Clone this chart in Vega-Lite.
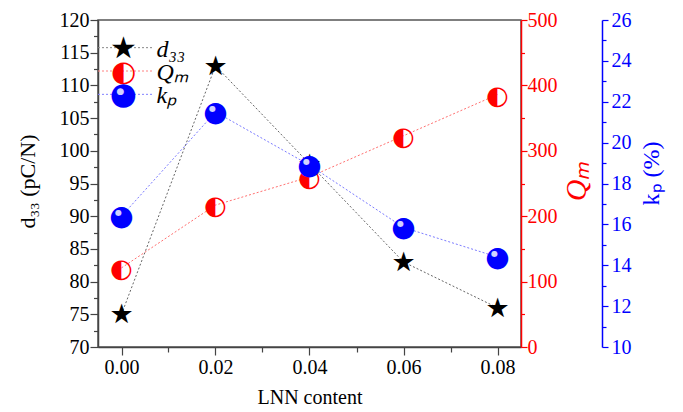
{
  "$schema": "https://vega.github.io/schema/vega-lite/v6.json",
  "width": 423,
  "height": 327,
  "autosize": {"type": "none"},
  "padding": {"left": 98, "top": 20, "right": 162, "bottom": 65},
  "background": "white",
  "config": {
    "aria": false,
    "view": {"stroke": "#555", "strokeWidth": 1.5},
    "font": "Liberation Serif",
    "axis": {
      "labelFont": "Liberation Serif",
      "titleFont": "Liberation Serif",
      "labelFontSize": 20,
      "titleFontSize": 22,
      "titleFontWeight": "normal",
      "grid": false,
      "labelColor": "black",
      "titleColor": "black",
      "tickColor": "#444",
      "domainColor": "#444",
      "domainWidth": 1.5,
      "tickWidth": 1.2
    }
  },
  "data": {
    "values": [
      {"x": 0.00, "series": "d33", "value": 75},
      {"x": 0.02, "series": "d33", "value": 113},
      {"x": 0.04, "series": "d33", "value": 98},
      {"x": 0.06, "series": "d33", "value": 83},
      {"x": 0.08, "series": "d33", "value": 76},
      {"x": 0.00, "series": "Qm", "value": 121},
      {"x": 0.02, "series": "Qm", "value": 217},
      {"x": 0.04, "series": "Qm", "value": 260},
      {"x": 0.06, "series": "Qm", "value": 323},
      {"x": 0.08, "series": "Qm", "value": 386},
      {"x": 0.00, "series": "kp", "value": 16.4},
      {"x": 0.02, "series": "kp", "value": 21.5},
      {"x": 0.04, "series": "kp", "value": 18.9},
      {"x": 0.06, "series": "kp", "value": 15.85},
      {"x": 0.08, "series": "kp", "value": 14.4}
    ]
  },
  "layer": [
    {
      "transform": [{"filter": "datum.series === 'd33'"}],
      "mark": {"type": "line", "color": "#666", "strokeDash": [2, 2], "strokeWidth": 1},
      "encoding": {
        "x": {"field": "x", "type": "quantitative",
          "scale": {"domain": [-0.005, 0.085], "nice": false, "zero": false},
          "axis": {"orient": "bottom", "values": [0, 0.02, 0.04, 0.06, 0.08], "format": ".2f", "tickSize": 8, "labelPadding": 2,
            "title": "LNN content", "titleFontSize": 20, "titleBaseline": "middle", "titleY": 50}},
        "y": {"field": "value", "type": "quantitative",
          "scale": {"domain": [70, 120], "nice": false, "zero": false},
          "axis": {"orient": "left", "values": [70, 75, 80, 85, 90, 95, 100, 105, 110, 115, 120], "tickSize": 8, "labelPadding": 1,
            "title": "d₃₃ (pC/N)", "titleAngle": 270, "titleBaseline": "middle", "titleAlign": "center", "titleX": -71, "titleY": 161}}
      }
    },
    {
      "transform": [{"filter": "datum.series === 'Qm'"}],
      "mark": {"type": "line", "color": "#ff7070", "strokeDash": [2, 2], "strokeWidth": 1},
      "encoding": {
        "x": {"field": "x", "type": "quantitative", "scale": {"domain": [-0.005, 0.085], "nice": false, "zero": false}, "axis": null},
        "y": {"field": "value", "type": "quantitative",
          "scale": {"domain": [0, 500], "nice": false},
          "axis": {"orient": "right", "values": [0, 100, 200, 300, 400, 500], "tickSize": 6, "labelPadding": 0,
            "domainColor": "red", "tickColor": "red", "labelColor": "red", "titleColor": "red",
            "title": "Qₘ", "titleFontSize": 30, "titleFontStyle": "italic", "titleAngle": 270, "titleBaseline": "middle", "titleAlign": "center", "titleX": 55, "titleY": 161}}
      }
    },
    {
      "transform": [{"filter": "datum.series === 'kp'"}],
      "mark": {"type": "line", "color": "#7a7aff", "strokeDash": [2, 2], "strokeWidth": 1},
      "encoding": {
        "x": {"field": "x", "type": "quantitative", "scale": {"domain": [-0.005, 0.085], "nice": false, "zero": false}, "axis": null},
        "y": {"field": "value", "type": "quantitative",
          "scale": {"domain": [10, 26], "nice": false, "zero": false},
          "axis": {"orient": "right", "offset": 81, "values": [10, 12, 14, 16, 18, 20, 22, 24, 26], "tickSize": 6, "labelPadding": 3,
            "domainColor": "blue", "tickColor": "blue", "labelColor": "blue", "titleColor": "blue",
            "title": "kₚ (%)", "titleFontSize": 24, "titleAngle": 270, "titleBaseline": "middle", "titleAlign": "center", "titleX": 49, "titleY": 153}}
      }
    },
    {
      "transform": [{"filter": "datum.series === 'd33'"}],
      "mark": {"type": "text", "text": "★", "font": "DejaVu Sans", "fontSize": 27, "baseline": "middle", "align": "center", "dy": 1, "color": "black"},
      "encoding": {
        "x": {"field": "x", "type": "quantitative", "scale": {"domain": [-0.005, 0.085], "nice": false, "zero": false},
          "axis": {"orient": "bottom", "values": [0.01, 0.03, 0.05, 0.07], "tickSize": 5, "labels": false, "domain": false, "title": null}},
        "y": {"field": "value", "type": "quantitative", "scale": {"domain": [70, 120], "nice": false, "zero": false},
          "axis": {"orient": "left", "values": [72.5, 77.5, 82.5, 87.5, 92.5, 97.5, 102.5, 107.5, 112.5, 117.5], "tickSize": 4.5, "labels": false, "domain": false, "title": null}}
      }
    },
    {
      "transform": [{"filter": "datum.series === 'Qm'"}],
      "mark": {"type": "text", "text": "◐", "font": "DejaVu Sans", "fontSize": 26, "baseline": "middle", "align": "center", "dy": 1, "color": "red"},
      "encoding": {
        "x": {"field": "x", "type": "quantitative", "scale": {"domain": [-0.005, 0.085], "nice": false, "zero": false}, "axis": null},
        "y": {"field": "value", "type": "quantitative", "scale": {"domain": [0, 500], "nice": false},
          "axis": {"orient": "right", "values": [50, 150, 250, 350, 450], "tickSize": 3.5, "labels": false, "domain": false, "title": null, "tickColor": "red"}}
      }
    },
    {
      "transform": [{"filter": "datum.series === 'kp'"}],
      "mark": {"type": "text", "text": "●", "font": "DejaVu Sans", "fontSize": 28, "baseline": "middle", "align": "center", "dy": 1, "color": "blue"},
      "encoding": {
        "x": {"field": "x", "type": "quantitative", "scale": {"domain": [-0.005, 0.085], "nice": false, "zero": false}, "axis": null},
        "y": {"field": "value", "type": "quantitative", "scale": {"domain": [10, 26], "nice": false, "zero": false},
          "axis": {"orient": "right", "offset": 81, "values": [11, 13, 15, 17, 19, 21, 23, 25], "tickSize": 4, "labels": false, "domain": false, "title": null, "tickColor": "blue"}}
      }
    },
    {
      "transform": [{"filter": "datum.series === 'kp'"}],
      "mark": {"type": "text", "text": "●", "font": "DejaVu Sans", "fontSize": 8, "baseline": "middle", "align": "center", "dx": -3, "dy": -3, "color": "#e8e8ff", "opacity": 0.9},
      "encoding": {
        "x": {"field": "x", "type": "quantitative", "scale": {"domain": [-0.005, 0.085], "nice": false, "zero": false}, "axis": null},
        "y": {"field": "value", "type": "quantitative", "scale": {"domain": [10, 26], "nice": false, "zero": false}, "axis": null}
      }
    },
    {
      "data": {"values": [
        {"series": "d33", "label": "d₃₃"},
        {"series": "Qm", "label": "Qₘ"},
        {"series": "kp", "label": "kₚ"}
      ]},
      "layer": [
        {
          "mark": {"type": "rule", "strokeDash": [2, 2], "strokeWidth": 1},
          "encoding": {
            "x": {"datum": -0.005, "type": "quantitative", "scale": {"domain": [-0.005, 0.085], "nice": false, "zero": false}, "axis": null},
            "x2": {"datum": 0.0065},
            "y": {"field": "series", "type": "nominal", "scale": {"type": "point", "domain": ["d33", "Qm", "kp"], "range": [16, 86]}, "axis": null},
            "stroke": {"field": "series", "type": "nominal", "scale": {"domain": ["d33", "Qm", "kp"], "range": ["#888888", "#ff8080", "#8080ff"]}, "legend": null}
          }
        },
        {
          "transform": [{"filter": "datum.series === 'd33'"}],
          "mark": {"type": "text", "text": "★", "font": "DejaVu Sans", "fontSize": 30, "baseline": "middle", "align": "center", "dy": 1, "color": "black"},
          "encoding": {
            "x": {"datum": 0.0004, "type": "quantitative", "scale": {"domain": [-0.005, 0.085], "nice": false, "zero": false}, "axis": null},
            "y": {"field": "series", "type": "nominal", "scale": {"type": "point", "domain": ["d33", "Qm", "kp"], "range": [16, 86]}, "axis": null}
          }
        },
        {
          "transform": [{"filter": "datum.series === 'Qm'"}],
          "mark": {"type": "text", "text": "◐", "font": "DejaVu Sans", "fontSize": 29, "baseline": "middle", "align": "center", "dy": 1, "color": "red"},
          "encoding": {
            "x": {"datum": 0.0004, "type": "quantitative", "scale": {"domain": [-0.005, 0.085], "nice": false, "zero": false}, "axis": null},
            "y": {"field": "series", "type": "nominal", "scale": {"type": "point", "domain": ["d33", "Qm", "kp"], "range": [16, 86]}, "axis": null}
          }
        },
        {
          "transform": [{"filter": "datum.series === 'kp'"}],
          "mark": {"type": "text", "text": "●", "font": "DejaVu Sans", "fontSize": 31, "baseline": "middle", "align": "center", "dy": 1, "color": "blue"},
          "encoding": {
            "x": {"datum": 0.0004, "type": "quantitative", "scale": {"domain": [-0.005, 0.085], "nice": false, "zero": false}, "axis": null},
            "y": {"field": "series", "type": "nominal", "scale": {"type": "point", "domain": ["d33", "Qm", "kp"], "range": [16, 86]}, "axis": null}
          }
        },
        {
          "transform": [{"filter": "datum.series === 'kp'"}],
          "mark": {"type": "text", "text": "●", "font": "DejaVu Sans", "fontSize": 9, "baseline": "middle", "align": "center", "dx": -3, "dy": -3, "color": "#e8e8ff", "opacity": 0.9},
          "encoding": {
            "x": {"datum": 0.0004, "type": "quantitative", "scale": {"domain": [-0.005, 0.085], "nice": false, "zero": false}, "axis": null},
            "y": {"field": "series", "type": "nominal", "scale": {"type": "point", "domain": ["d33", "Qm", "kp"], "range": [16, 86]}, "axis": null}
          }
        },
        {
          "mark": {"type": "text", "font": "Liberation Serif", "fontSize": 24, "fontStyle": "italic", "baseline": "middle", "align": "left", "dx": 33, "dy": 2, "color": "black"},
          "encoding": {
            "x": {"datum": 0.0004, "type": "quantitative", "scale": {"domain": [-0.005, 0.085], "nice": false, "zero": false}, "axis": null},
            "y": {"field": "series", "type": "nominal", "scale": {"type": "point", "domain": ["d33", "Qm", "kp"], "range": [16, 86]}, "axis": null},
            "text": {"field": "label", "type": "nominal"}
          }
        }
      ]
    }
  ],
  "resolve": {"scale": {"y": "independent"}, "axis": {"x": "independent"}}
}
